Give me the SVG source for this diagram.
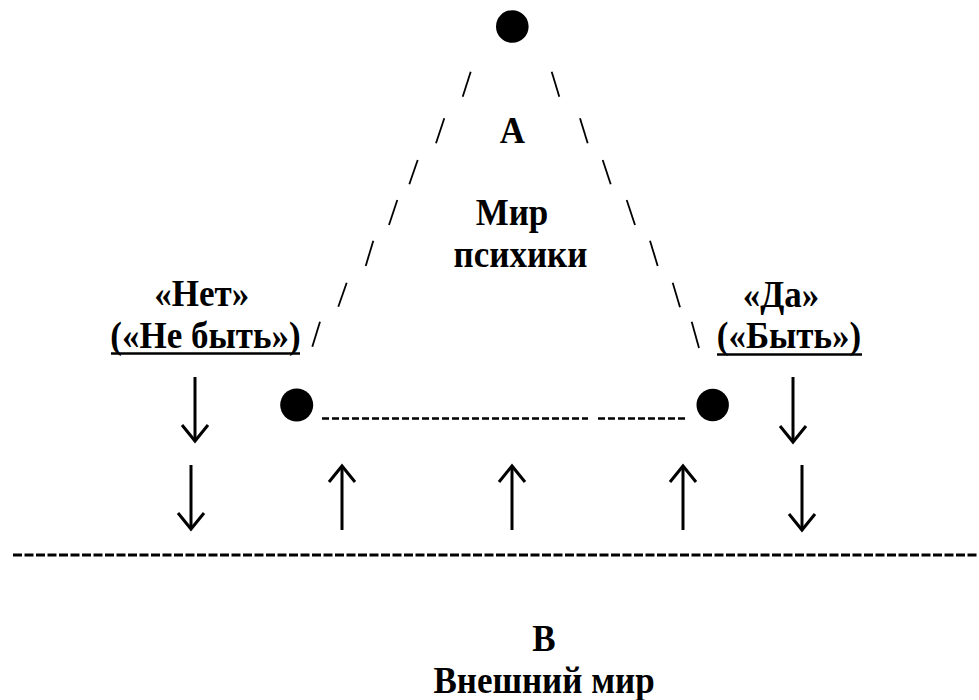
<svg xmlns="http://www.w3.org/2000/svg" width="979" height="700" viewBox="0 0 979 700">
  <style>
    .t { font-family: "Liberation Serif", "Times New Roman", serif; font-weight: bold; font-size: 35px; fill: #000; text-anchor: middle; }
    .slash { stroke: #000; stroke-width: 1.8; fill: none; }
    .arr { stroke: #000; stroke-width: 3; fill: none; marker-end: url(#head); }
    .dot { fill: #000; }
    .ul { stroke: #000; stroke-width: 2.6; }
  </style>
  <defs>
    <marker id="head" markerUnits="userSpaceOnUse" markerWidth="40" markerHeight="40" viewBox="-20 -20 40 40" refX="0" refY="0" orient="auto">
      <path d="M-16,-13 L0,0 L-16,13" fill="none" stroke="#000" stroke-width="3" stroke-linejoin="miter"/>
    </marker>
  </defs>
  <rect width="979" height="700" fill="#fff"/>

  <g id="connectors">
    <g id="triangle-left" class="slash">
      <line x1="470.7" y1="71.7" x2="462.7" y2="96.7"/>
      <line x1="444.3" y1="118.3" x2="436" y2="143.3"/>
      <line x1="417.7" y1="160" x2="409.3" y2="184.3"/>
      <line x1="397.3" y1="200" x2="389" y2="225"/>
      <line x1="373.3" y1="240.7" x2="365.7" y2="266"/>
      <line x1="346.7" y1="282.7" x2="338.3" y2="306.7"/>
      <line x1="320" y1="321.7" x2="312.3" y2="346.7"/>
    </g>
    <g id="triangle-right" class="slash">
      <line x1="551.7" y1="71.7" x2="559.3" y2="96.7"/>
      <line x1="580" y1="118.3" x2="587.7" y2="143.3"/>
      <line x1="602.7" y1="160" x2="610.7" y2="184.3"/>
      <line x1="626.7" y1="200" x2="635" y2="225"/>
      <line x1="650" y1="240.7" x2="657.7" y2="266"/>
      <line x1="672.7" y1="282.7" x2="680" y2="307.3"/>
      <line x1="691.7" y1="321.7" x2="699" y2="348"/>
    </g>
    <g id="base-line" stroke="#000" stroke-width="2.6" stroke-dasharray="7 3">
      <line x1="322" y1="418.5" x2="588" y2="418.5"/>
      <line x1="598" y1="418.5" x2="688" y2="418.5"/>
    </g>
    <g id="boundary" stroke="#000" stroke-width="3" stroke-dasharray="9 2.5">
      <line x1="13" y1="555" x2="979" y2="555"/>
    </g>
    <g id="arrows">
      <line class="arr" x1="195" y1="377" x2="195" y2="441"/>
      <line class="arr" x1="191" y1="465" x2="191" y2="529"/>
      <line class="arr" x1="342" y1="530" x2="342" y2="466"/>
      <line class="arr" x1="512" y1="530" x2="512" y2="466"/>
      <line class="arr" x1="683" y1="530" x2="683" y2="466"/>
      <line class="arr" x1="793" y1="377" x2="793" y2="442"/>
      <line class="arr" x1="802" y1="465" x2="802" y2="530"/>
    </g>
  </g>

  <g id="node-top"><circle class="dot" cx="512.3" cy="26.5" r="16.3"/></g>
  <g id="node-left"><circle class="dot" cx="296.7" cy="405" r="16.5"/></g>
  <g id="node-right"><circle class="dot" cx="712.7" cy="405" r="16.2"/></g>

  <g id="label-A">
    <text class="t" transform="translate(512.5 143) scale(1 1.1)">А</text>
    <text class="t" transform="translate(512 225) scale(1 1.1)">Мир</text>
    <text class="t" transform="translate(520.5 267) scale(1 1.1)">психики</text>
  </g>
  <g id="label-net">
    <text class="t" transform="translate(201.7 306) scale(1 1.1)">«Нет»</text>
    <text class="t" transform="translate(205.5 348) scale(1 1.1)">(«Не быть»)</text>
    <line class="ul" x1="111" y1="353.5" x2="300" y2="353.5"/>
  </g>
  <g id="label-da">
    <text class="t" transform="translate(781 307) scale(1 1.1)">«Да»</text>
    <text class="t" transform="translate(789 348) scale(1 1.1)">(«Быть»)</text>
    <line class="ul" x1="717" y1="354.5" x2="862" y2="354.5"/>
  </g>
  <g id="label-B">
    <text class="t" transform="translate(544 651) scale(1 1.1)">В</text>
    <text class="t" transform="translate(544 693) scale(1 1.1)">Внешний мир</text>
  </g>
</svg>
